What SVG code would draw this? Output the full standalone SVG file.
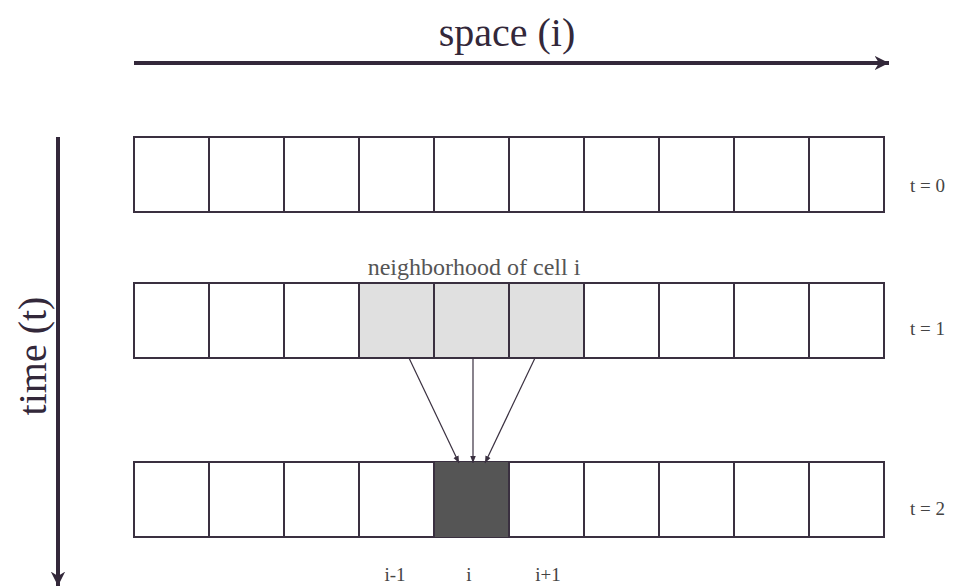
<svg xmlns="http://www.w3.org/2000/svg" width="954" height="588" viewBox="0 0 954 588">
<style>
.cell{fill:#ffffff;stroke:#3a3040;stroke-width:2}
.nb{fill:#e0e0e0}
.ci{fill:#555555}
.axis{stroke:#33283a;stroke-width:4;fill:none}
.conn{stroke:#3a3040;stroke-width:1.2;fill:none}
.big{font-family:"Liberation Serif",serif;font-size:40px;fill:#33283a}
.lbl{font-family:"Liberation Serif",serif;font-size:19px;fill:#444}
.nbl{font-family:"Liberation Serif",serif;font-size:24px;fill:#555}
</style>
<defs>
<marker id="ah" viewBox="0 0 10 10" refX="10" refY="5" markerWidth="3.6" markerHeight="3.6" orient="auto" markerUnits="strokeWidth">
<path d="M0,0 L10,5 L0,10 L3,5 Z" fill="#33283a"/>
</marker>
<marker id="sh" viewBox="0 0 10 10" refX="10" refY="5" markerWidth="7" markerHeight="7" orient="auto" markerUnits="userSpaceOnUse">
<path d="M0,1 L10,5 L0,9 Z" fill="#3a3040"/>
</marker>
</defs>
<rect width="954" height="588" fill="#ffffff"/>
<g id="axes">
<line class="axis" x1="134" y1="63" x2="889" y2="63" marker-end="url(#ah)"/>
<text class="big" x="507" y="46" text-anchor="middle">space (i)</text>
<line class="axis" x1="58" y1="137" x2="58" y2="586" marker-end="url(#ah)"/>
<text class="big" transform="translate(46,356) rotate(-90)" text-anchor="middle">time (t)</text>
</g>
<g id="row0">
<rect class="cell" x="134" y="137" width="750" height="75"/>
<path class="cell" d="M209,137V212M284,137V212M359,137V212M434,137V212M509,137V212M584,137V212M659,137V212M734,137V212M809,137V212"/>
<text class="lbl" x="910" y="192">t = 0</text>
</g>
<g id="row1">
<rect class="nb" x="359" y="283" width="225" height="75"/>
<rect class="cell" x="134" y="283" width="750" height="75" style="fill:none"/>
<path class="cell" d="M209,283V358M284,283V358M359,283V358M434,283V358M509,283V358M584,283V358M659,283V358M734,283V358M809,283V358"/>
<text class="nbl" x="474" y="275" text-anchor="middle">neighborhood of cell i</text>
<text class="lbl" x="910" y="335">t = 1</text>
</g>
<g id="row2">
<rect class="cell" x="134" y="462" width="750" height="75"/>
<rect class="ci" x="434" y="462" width="75" height="75"/>
<path class="cell" d="M209,462V537M284,462V537M359,462V537M434,462V537M509,462V537M584,462V537M659,462V537M734,462V537M809,462V537"/>
<text class="lbl" x="910" y="515">t = 2</text>
<text class="lbl" x="395" y="581" text-anchor="middle">i-1</text>
<text class="lbl" x="469" y="581" text-anchor="middle">i</text>
<text class="lbl" x="548" y="581" text-anchor="middle">i+1</text>
</g>
<g id="connectors">
<line class="conn" x1="409" y1="358" x2="459" y2="463" marker-end="url(#sh)"/>
<line class="conn" x1="473" y1="358" x2="473" y2="463" marker-end="url(#sh)"/>
<line class="conn" x1="535" y1="358" x2="485" y2="463" marker-end="url(#sh)"/>
</g>
</svg>
